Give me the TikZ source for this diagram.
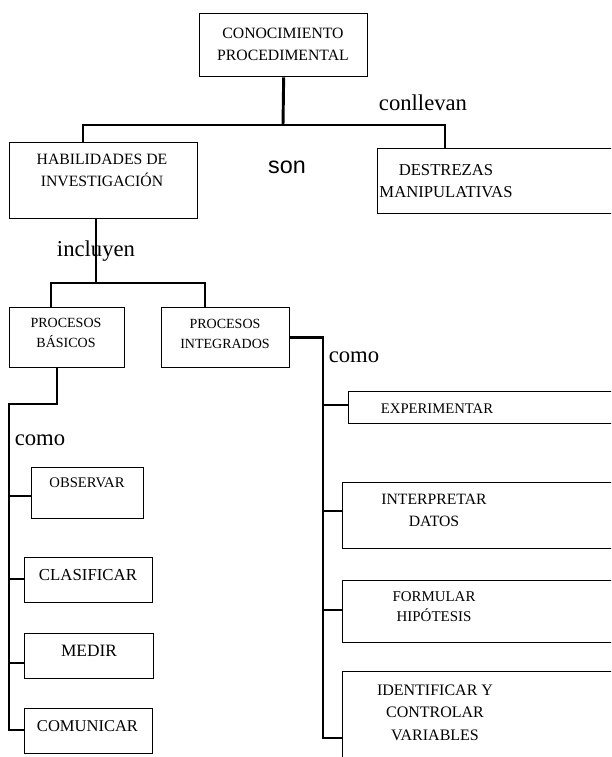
\documentclass[tikz,border=0pt]{standalone}
\usepackage{fontspec}
\setmainfont{Liberation Serif}
\newfontfamily\sansf{Liberation Sans}
\begin{document}
\begin{tikzpicture}[x=0.75pt,y=-0.75pt,
  cbox/.style 2 args={draw, line width=1pt, rectangle, anchor=north west, inner sep=0pt, minimum width=#1*0.75pt, minimum height=#2*0.75pt},
  lbl/.style={align=center, inner sep=0pt, font=\fontsize{11.8}{16.5}\selectfont},
  conn/.style={line width=2.2pt},
  word/.style={inner sep=0pt, anchor=base, font=\fontsize{17}{20}\selectfont}]
\useasboundingbox (0,0) rectangle (611,757);
\clip (0,0) rectangle (611,757);

% boxes
\node[cbox={168}{63}] (top) at (199,13) {};
\node[cbox={188}{76}] (hab) at (9,142) {};
\node[cbox={263}{65}] (des) at (377,148) {};
\node[cbox={115}{60}] (pb) at (9,307) {};
\node[cbox={128}{60}] (pi) at (161,307) {};
\node[cbox={292}{32}] (exp) at (348,391) {};
\node[cbox={112}{51}] (obs) at (31,467) {};
\node[cbox={128}{45}] (cla) at (24,557) {};
\node[cbox={129}{45}] (med) at (24,633) {};
\node[cbox={128}{45}] (com) at (24,708) {};
\node[cbox={298}{66}] (int) at (342,482) {};
\node[cbox={298}{62}] (for) at (342,580) {};
\node[cbox={298}{120}] (ide) at (342,671) {};

% texts
\node[lbl] (ttop) at (283,44) {CONOCIMIENTO\\PROCEDIMENTAL};
\node[lbl] (thab) at (102,170) {HABILIDADES DE\\INVESTIGACIÓN};
\node[lbl, font=\fontsize{12.5}{17}\selectfont] (tdes) at (446,181) {DESTREZAS\\MANIPULATIVAS};
\node[lbl, font=\fontsize{10.5}{15}\selectfont] (tpb) at (66,333) {PROCESOS\\BÁSICOS};
\node[lbl, font=\fontsize{10.5}{15}\selectfont] (tpi) at (225,334) {PROCESOS\\INTEGRADOS};
\node[lbl, font=\fontsize{11}{15}\selectfont] (texp) at (437,408.5) {EXPERIMENTAR};
\node[lbl, font=\fontsize{11}{15}\selectfont] (tobs) at (87,482.5) {OBSERVAR};
\node[lbl, font=\fontsize{12.6}{15}\selectfont] (tcla) at (88,575) {CLASIFICAR};
\node[lbl, font=\fontsize{13}{15}\selectfont] (tmed) at (89,651) {MEDIR};
\node[lbl, font=\fontsize{12.4}{15}\selectfont] (tcom) at (87.5,726.5) {COMUNICAR};
\node[lbl] (tint) at (434,510.5) {INTERPRETAR\\DATOS};
\node[lbl, font=\fontsize{11.2}{15}\selectfont] (tfor) at (434,607) {FORMULAR\\HIPÓTESIS};
\node[lbl, font=\fontsize{12}{17}\selectfont] (tide) at (435,712.5) {IDENTIFICAR Y\\CONTROLAR\\VARIABLES};

% link words
\node[word] (w1) at (423,110) {conllevan};
\node[word, font=\sansf\fontsize{17.5}{20}\selectfont] (w2) at (287,173) {son};
\node[word] (w3) at (96,256) {incluyen};
\node[word] (w4) at (354,362) {como};
\node[word] (w5) at (40,445) {como};

% junctions
\coordinate (j1) at (283,125);
\coordinate (jL) at (83,125);
\coordinate (jR) at (445,125);
\coordinate (j2) at (96,283);
\coordinate (j2L) at (51,283);
\coordinate (j2R) at (205,283);
\coordinate (r0) at (323,337);
\coordinate (r1) at (323,405);
\coordinate (r2) at (323,511);
\coordinate (r3) at (323,610);
\coordinate (r4) at (323,738);
\coordinate (b0) at (57,404);
\coordinate (b1) at (9,404);
\coordinate (l1) at (9,496);
\coordinate (l2) at (9,579);
\coordinate (l3) at (9,663);
\coordinate (l4) at (9,730);

% connectors
\draw[conn] (top.south) -- (j1);
\draw[conn] (hab.north -| jL) -- (jL) -- (jR) -- (des.north -| jR);
\draw[conn] (hab.south -| j2) -- (j2);
\draw[conn] (pb.north -| j2L) -- (j2L) -- (j2R) -- (pi.north -| j2R);
\draw[conn] (pi.east) -- (pi.east -| r0) -- (r4) -- (r4 -| ide.west);
\draw[conn] (r1) -- (r1 -| exp.west);
\draw[conn] (r2) -- (r2 -| int.west);
\draw[conn] (r3) -- (r3 -| for.west);
\draw[conn] (pb.south -| b0) -- (b0) -- (b1) -- (l4) -- (l4 -| com.west);
\draw[conn] (l1) -- (l1 -| obs.west);
\draw[conn] (l2) -- (l2 -| cla.west);
\draw[conn] (l3) -- (l3 -| med.west);
\end{tikzpicture}
\end{document}
